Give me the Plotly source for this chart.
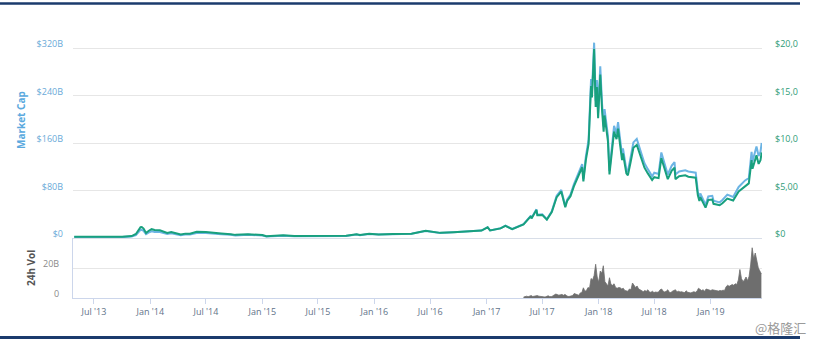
import plotly.graph_objects as go
import pandas as pd

# ---------------- data ----------------
dates = [
    "2013-04-28", "2013-06-01", "2013-07-05", "2013-08-01", "2013-09-01", "2013-10-01",
    "2013-11-01", "2013-11-15", "2013-11-30", "2013-12-04", "2013-12-10", "2013-12-18",
    "2013-12-26", "2014-01-05", "2014-01-15", "2014-02-01", "2014-02-25", "2014-03-10",
    "2014-04-10", "2014-04-25", "2014-05-10", "2014-06-01", "2014-07-01", "2014-08-01",
    "2014-08-20", "2014-09-20", "2014-10-05", "2014-11-15", "2014-12-15", "2015-01-01",
    "2015-01-14", "2015-02-01", "2015-03-10", "2015-04-15", "2015-06-01", "2015-07-10",
    "2015-08-24", "2015-10-01", "2015-11-04", "2015-11-15", "2015-12-15", "2016-01-15",
    "2016-03-01", "2016-05-01", "2016-06-16", "2016-07-01", "2016-08-02", "2016-09-15",
    "2016-11-01", "2016-12-15", "2017-01-04", "2017-01-12", "2017-02-15", "2017-03-03",
    "2017-03-25", "2017-04-15", "2017-05-01", "2017-05-25", "2017-05-27", "2017-06-12",
    "2017-06-15", "2017-07-01", "2017-07-16", "2017-08-01", "2017-08-17", "2017-09-01",
    "2017-09-14", "2017-09-20", "2017-10-01", "2017-10-12", "2017-10-20", "2017-11-08",
    "2017-11-12", "2017-11-20", "2017-11-29", "2017-12-07", "2017-12-10", "2017-12-17",
    "2017-12-22", "2017-12-26", "2017-12-30", "2018-01-06", "2018-01-12", "2018-01-17",
    "2018-01-20", "2018-01-31", "2018-02-05", "2018-02-10", "2018-02-20", "2018-02-28",
    "2018-03-05", "2018-03-18", "2018-03-21", "2018-04-01", "2018-04-06", "2018-04-15",
    "2018-04-24", "2018-05-05", "2018-05-20", "2018-05-30", "2018-06-10", "2018-06-24",
    "2018-07-01", "2018-07-15", "2018-07-24", "2018-08-01", "2018-08-14", "2018-08-27",
    "2018-09-05", "2018-09-08", "2018-09-20", "2018-10-10", "2018-10-20", "2018-11-13",
    "2018-11-16", "2018-11-20", "2018-11-25", "2018-11-28", "2018-12-15", "2018-12-24",
    "2019-01-06", "2019-01-10", "2019-01-30", "2019-02-08", "2019-02-24", "2019-03-15",
    "2019-04-02", "2019-04-23", "2019-05-05", "2019-05-14", "2019-05-17", "2019-05-30",
    "2019-06-06", "2019-06-12", "2019-06-16",
]

price_usd = [
    135, 129, 80, 105, 140, 125,
    205, 420, 1130, 1150, 990, 520,
    740, 930, 840, 820, 540, 630,
    360, 460, 450, 650, 640, 590,
    480, 400, 330, 400, 340, 315,
    180, 225, 290, 220, 225, 270,
    210, 237, 400, 320, 450, 380,
    430, 450, 760, 670, 540, 610,
    730, 780, 1130, 790, 1010, 1280,
    930, 1180, 1420, 2300, 2050, 2950,
    2400, 2430, 1930, 2720, 4300, 4890,
    3230, 3900, 4400, 5430, 6000, 7450,
    5950, 8200, 9900, 16000, 14800, 19900,
    13800, 15900, 12600, 17200, 13400, 11200,
    12900, 10200, 6700, 8100, 11200, 10400,
    11500, 8200, 8900, 6800, 6600, 8000,
    9500, 9800, 8200, 7400, 6800, 6100,
    6400, 6300, 8400, 7600, 6200, 7100,
    7400, 6200, 6500, 6600, 6450, 6350,
    5600, 4500, 3900, 4300, 3200, 4000,
    4050, 3600, 3450, 3650, 4150, 3950,
    4900, 5500, 5750, 8200, 7300, 8700,
    7800, 8200, 9000,
]

market_cap_b = [
    1.5, 1.44, 0.9, 1.2, 1.6, 1.5,
    2.4, 5.0, 13.6, 13.9, 11.9, 6.3,
    9.0, 11.4, 10.3, 10.1, 6.7, 7.9,
    4.5, 5.8, 5.7, 8.3, 8.3, 7.7,
    6.3, 5.3, 4.4, 5.4, 4.6, 4.3,
    2.5, 3.1, 4.0, 3.1, 3.2, 3.9,
    3.0, 3.5, 5.9, 4.7, 6.7, 5.7,
    6.5, 7.0, 11.9, 10.5, 8.5, 9.6,
    11.6, 12.5, 18.2, 12.7, 16.3, 20.7,
    15.1, 19.2, 23.2, 37.6, 33.5, 48.3,
    39.3, 39.9, 31.7, 44.8, 71.0, 80.9,
    53.5, 64.7, 73.1, 90.3, 99.9, 124.3,
    99.3, 137, 165.5, 267.7, 247.7, 329,
    231, 266, 211, 289, 225, 188,
    217, 172, 113, 137, 189, 176,
    195, 139, 151, 115, 112, 136,
    161, 167, 140, 126, 116, 104,
    110, 108, 144, 131, 107, 122,
    128, 107, 112, 114, 112, 110,
    97, 78, 68, 75, 56, 70,
    71, 63, 60, 64, 73, 69,
    86, 97, 101, 145, 129, 154,
    138, 145, 160,
]

vol_start = "2017-05-01"
volume_b = [
    0.6, 0.9, 1.2, 0.9, 1.4, 1.6, 1.0, 1.2, 1.3, 1.6,
    1.2, 0.9, 0.9, 0.8, 0.6, 0.8, 1.5, 1.0, 0.9, 1.4,
    2.0, 2.6, 2.3, 1.9, 2.1, 2.4, 1.8, 2.4, 1.6, 1.0,
    1.1, 1.3, 1.6, 3.0, 2.6, 2.3, 1.8, 3.4, 3.6, 6.8,
    4.5, 5.0, 7.0, 6.5, 13.0, 12.0, 15.0, 22.5, 14.0, 10.5,
    18.0, 16.5, 21.5, 11.0, 9.0, 8.0, 13.5, 9.0, 8.5, 9.5,
    7.0, 6.5, 7.0, 6.8, 6.0, 6.5, 5.0, 4.8, 4.5, 6.0,
    5.5, 10.0, 8.5, 7.0, 8.0, 6.0, 5.5, 5.0, 4.2, 5.0,
    4.5, 5.5, 4.0, 3.8, 4.5, 3.6, 4.0, 3.8, 4.0, 5.5,
    6.0, 4.5, 4.0, 4.5, 5.5, 3.8, 3.6, 4.5, 4.8, 5.5,
    4.0, 4.5, 4.0, 4.2, 3.8, 3.6, 4.8, 3.8, 3.6, 3.4,
    3.8, 4.2, 3.8, 4.5, 6.5, 6.0, 5.0, 5.5, 4.5, 6.0,
    5.5, 5.5, 5.0, 5.5, 5.2, 5.0, 4.8, 4.6, 5.0, 4.8,
    5.2, 5.0, 7.5, 8.5, 7.8, 8.5, 9.0, 8.5, 9.5, 9.0,
    12.0, 19.0, 13.0, 11.0, 12.0, 14.0, 11.5, 14.5, 22.0, 33.5,
    26.0, 30.0, 24.0, 20.0, 18.0, 16.0,
]
vol_dates = pd.date_range(vol_start, periods=len(volume_b), freq="5D")

x_tick_dates = ["2013-07-01", "2014-01-01", "2014-07-01", "2015-01-01", "2015-07-01",
                "2016-01-01", "2016-07-01", "2017-01-01", "2017-07-01", "2018-01-01",
                "2018-07-01", "2019-01-01"]
x_tick_labels = ["Jul '13", "Jan '14", "Jul '14", "Jan '15", "Jul '15", "Jan '16",
                 "Jul '16", "Jan '17", "Jul '17", "Jan '18", "Jul '18", "Jan '19"]
cap_ticks = [0, 80, 160, 240, 320]
cap_labels = ["$0", "$80B", "$160B", "$240B", "$320B"]
price_ticks = [0, 5000, 10000, 15000, 20000]
price_labels = ["$0", "$5,00", "$10,0", "$15,0", "$20,0"]
vol_ticks = [0, 20]
vol_labels = ["0", "20B"]

# ---------------- layout geometry (pixels) ----------------
W, H = 814, 339
L, R, T, B = 73, 52, 40, 41
PW, PH = W - L - R, H - T - B
split = (298 - 238) / PH  # boundary between volume and main panel


def px_x(x):
    return (x - L) / PW


def px_y(y):
    return (H - B - y) / PH


FONT = "Open Sans"
CAP_COLOR = "#6cb4e4"
PRICE_COLOR = "#18a07e"

fig = go.Figure()
fig.add_trace(go.Scatter(x=dates, y=market_cap_b, mode="lines",
                         line=dict(color=CAP_COLOR, width=2), xaxis="x", yaxis="y",
                         name="Market Cap", hoverinfo="skip"))
fig.add_trace(go.Scatter(x=dates, y=price_usd, mode="lines",
                         line=dict(color=PRICE_COLOR, width=2), xaxis="x", yaxis="y2",
                         name="Price", hoverinfo="skip"))
fig.add_trace(go.Scatter(x=vol_dates, y=volume_b, mode="lines", fill="tozeroy",
                         line=dict(color="#6e6e6e", width=0.8), fillcolor="#6e6e6e",
                         xaxis="x2", yaxis="y3", name="24h Vol", hoverinfo="skip"))

xrange = ["2013-04-24", "2019-06-17"]
cap_max = (238 - T) / ((238 - 48) / 320)
price_max = cap_max * 62.5

fig.update_layout(
    width=W, height=H,
    margin=dict(l=L, r=R, t=T, b=B, pad=0),
    paper_bgcolor="white", plot_bgcolor="white",
    showlegend=False,
    font=dict(family=FONT, size=9, color="#666666"),
    xaxis=dict(domain=[0, 1], anchor="y", range=xrange, type="date",
               showticklabels=False, showgrid=False, zeroline=False, showline=False,
               ticks="", matches="x2"),
    yaxis=dict(domain=[split, 1], range=[0, cap_max], tickvals=cap_ticks,
               ticktext=cap_labels, tickfont=dict(color="#6aaad8", size=9, family=FONT),
               showgrid=True, gridcolor="#e6e6e6", gridwidth=1,
               zeroline=True, zerolinecolor="#d8dee8", zerolinewidth=1,
               showline=False, ticks="", ticklabelstandoff=9, ticklabelshift=-4),
    yaxis2=dict(overlaying="y", side="right", anchor="x", range=[0, price_max],
                tickvals=price_ticks, ticktext=price_labels,
                tickfont=dict(color="#2e9c77", size=9, family=FONT),
                showgrid=False, zeroline=False, showline=False, ticks="",
                ticklabelstandoff=12, ticklabelshift=-4),
    xaxis2=dict(domain=[0, 1], anchor="y3", range=xrange, type="date",
                tickvals=x_tick_dates, ticktext=x_tick_labels,
                tickfont=dict(color="#5f7389", size=9, family=FONT),
                ticks="outside", ticklen=5, tickcolor="#ccd6eb", tickwidth=1,
                showline=True, linecolor="#ccd6eb", linewidth=1,
                showgrid=False, zeroline=False),
    yaxis3=dict(domain=[0, split], anchor="x2", range=[0, 40], tickvals=vol_ticks,
                ticktext=vol_labels, tickfont=dict(color="#8a8a8a", size=9, family=FONT),
                showgrid=True, gridcolor="#e6e6e6", gridwidth=1, zeroline=False,
                showline=True, linecolor="#ccd6eb", linewidth=1, ticks="",
                ticklabelstandoff=11, ticklabelshift=-4),
)

fig.add_annotation(text="<b>Market Cap</b>", textangle=-90, xref="paper", yref="paper",
                   x=px_x(21), y=px_y(120), showarrow=False, xanchor="center",
                   yanchor="middle", font=dict(family=FONT, size=10, color="#5aa9de"))
fig.add_annotation(text="<b>24h Vol</b>", textangle=-90, xref="paper", yref="paper",
                   x=px_x(31), y=px_y(268), showarrow=False, xanchor="center",
                   yanchor="middle", font=dict(family=FONT, size=10, color="#555555"))
fig.add_annotation(text="@格隆汇", xref="paper", yref="paper",
                   x=px_x(780), y=px_y(327), showarrow=False, xanchor="center",
                   yanchor="middle",
                   font=dict(family="Noto Sans CJK SC", size=13, color="#9a9a9a"))

NAVY = "#1b3b6d"
fig.add_shape(type="line", xref="paper", yref="paper", x0=px_x(0), x1=px_x(800),
              y0=px_y(3.5), y1=px_y(3.5), line=dict(color=NAVY, width=2.5))
fig.add_shape(type="line", xref="paper", yref="paper", x0=px_x(0), x1=px_x(800),
              y0=px_y(337.5), y1=px_y(337.5), line=dict(color=NAVY, width=3))

fig.write_html("out.html")
